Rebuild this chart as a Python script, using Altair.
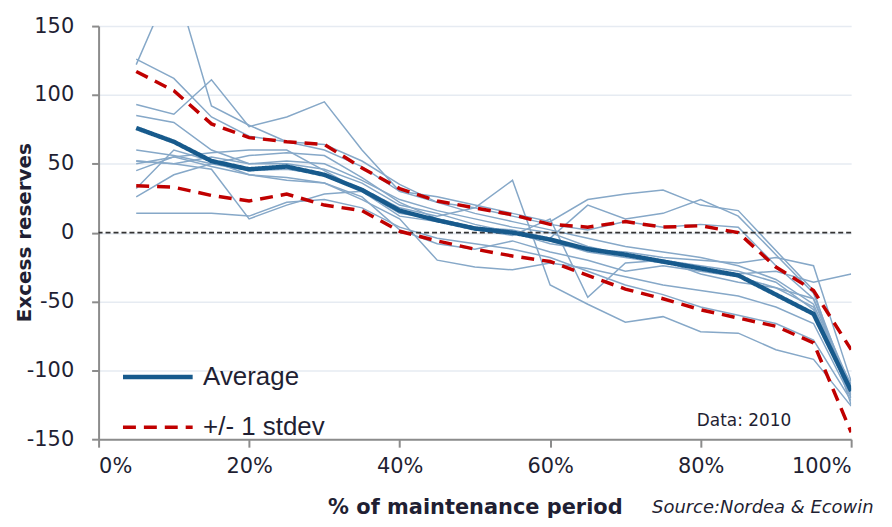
import altair as alt
import pandas as pd

# ---- data ----
x_pct = [0.05, 0.10, 0.15, 0.20, 0.25, 0.30, 0.35, 0.40, 0.45, 0.50,
         0.55, 0.60, 0.65, 0.70, 0.75, 0.80, 0.85, 0.90, 0.95, 1.00]

avg   = [76, 66, 52, 46, 48, 42, 31, 16, 9, 3, 0, -5, -12, -16, -21, -26, -31, -45, -59, -115]
upper = [117, 103, 79, 69, 66, 64, 47, 32, 23, 18, 13, 6, 4, 8, 4, 5, 0, -25, -42, -85]
lower = [34, 33, 27, 23, 28, 20, 16, 1, -6, -12, -17, -21, -31, -41, -48, -56, -62, -68, -80, -145]

p01 = [122, 185, 92, 78, 66, 60, 48, 30, 22, 14, 8, 2, -4, -10, -14, -18, -24, -34, -52, -114]
p02 = [126, 112, 84, 70, 66, 64, 52, 35, 22, 18, 12, 6, 2, 8, 4, 6, 4, -24, -48, -118]
p03 = [93, 86, 111, 77, 84, 95, 60, 30, 26, 20, 14, 8, 24, 28, 31, 20, 16, -13, -42, -125]
p04 = [14, 14, 14, 12, 22, 24, 18, 4, -4, -8, -12, -18, -28, -38, -45, -54, -60, -66, -78, -122]
p05 = [26, 42, 50, 56, 58, 56, 40, 22, 10, 4, 0, -6, -14, -18, -22, -26, -30, -28, -36, -30]
p06 = [60, 56, 50, 45, 46, 42, 32, 18, 12, 18, 38, -38, -52, -65, -61, -72, -73, -85, -92, -126]
p07 = [45, 55, 48, 42, 40, 36, 24, 10, -20, -25, -27, -22, -26, -32, -38, -42, -46, -54, -66, -120]
p08 = [52, 50, 46, 10, 20, 28, 30, 14, 10, 4, 2, -4, 20, 10, 14, 24, 12, -16, -44, -116]
p09 = [50, 55, 58, 60, 60, 45, 30, 12, 8, 2, -2, 10, -47, -22, -20, -30, -36, -40, -48, -112]
p10 = [85, 80, 60, 50, 50, 46, 36, 20, 14, 6, 0, -8, -12, -14, -18, -20, -22, -18, -24, -108]
p11 = [52, 50, 55, 50, 52, 50, 38, 24, 16, 10, 4, 0, -10, -16, -20, -24, -28, -36, -56, -110]
p12 = [32, 60, 52, 42, 38, 36, 26, 2, -8, -12, -6, -14, -20, -28, -24, -28, -32, -40, -54, -120]

periods = {"P01": p01, "P02": p02, "P03": p03, "P04": p04, "P05": p05, "P06": p06,
           "P07": p07, "P08": p08, "P09": p09, "P10": p10, "P11": p11, "P12": p12}

x_ticks = [0, 0.2, 0.4, 0.6, 0.8, 1.0]
y_ticks = [-150, -100, -50, 0, 50, 100, 150]

# ---- tables ----
thin_rows = []
for name, vals in periods.items():
    for x, v in zip(x_pct, vals):
        thin_rows.append({"x": x, "value": v, "period": name})
thin_df = pd.DataFrame(thin_rows)

stat_rows = []
for x, a, u, l in zip(x_pct, avg, upper, lower):
    stat_rows.append({"x": x, "value": a, "series": "Average", "band": "avg"})
    stat_rows.append({"x": x, "value": u, "series": "+/- 1 stdev", "band": "up"})
    stat_rows.append({"x": x, "value": l, "series": "+/- 1 stdev", "band": "low"})
stat_df = pd.DataFrame(stat_rows)

FONT = "DejaVu Sans"
TXT = "#1f1f33"

x_enc = alt.X("x:Q", scale=alt.Scale(domain=[0, 1], nice=False),
              axis=alt.Axis(values=x_ticks, format=".0%", grid=False,
                            domainColor="#8c8c8c", domainWidth=2,
                            tickColor="#8c8c8c", tickWidth=2, tickSize=8,
                            labelFont=FONT, labelFontSize=21, labelColor=TXT,
                            labelPadding=8, titleFont=FONT, titleFontSize=21,
                            titleFontWeight="bold", titleColor=TXT, titlePadding=21),
              title="% of maintenance period")
y_enc = alt.Y("value:Q", scale=alt.Scale(domain=[-150, 150], nice=False),
              axis=alt.Axis(values=y_ticks, grid=True, gridColor="#e6ebf2", gridWidth=1.5,
                            labelExpr="toString(datum.value)",
                            domainColor="#8c8c8c", domainWidth=2,
                            tickColor="#8c8c8c", tickWidth=2, tickSize=7,
                            labelFont=FONT, labelFontSize=21, labelColor=TXT,
                            labelPadding=18, titleFont=FONT, titleFontSize=20,
                            titleFontWeight="bold", titleColor=TXT,
                            titleX=-74, titleY=207, titleAngle=270,
                            titleAlign="center", titleBaseline="middle"),
              title="Excess reserves")

thin = alt.Chart(thin_df).mark_line(color="#86a8c8", strokeWidth=1.5, clip=True).encode(
    x=x_enc, y=y_enc, detail="period:N", order="x:Q")

zero = alt.Chart(pd.DataFrame({"z": [0]})).mark_rule(
    color="#333333", strokeDash=[5, 3], strokeWidth=1.6).encode(y=alt.Y("z:Q"))

series_dom = ["Average", "+/- 1 stdev"]
leg = alt.Legend(orient="none", legendX=22, legendY=315, title=None,
                 symbolType="stroke", symbolSize=4900,
                 labelFont="Liberation Sans", labelFontSize=26, labelColor=TXT,
                 labelOffset=8, rowPadding=-12)

stats = alt.Chart(stat_df).mark_line(clip=True).encode(
    x=x_enc, y=y_enc, detail="band:N", order="x:Q",
    color=alt.Color("series:N", scale=alt.Scale(domain=series_dom, range=["#175a8c", "#c00000"]),
                    legend=leg, sort=series_dom),
    strokeDash=alt.StrokeDash("series:N", scale=alt.Scale(domain=series_dom, range=[[1, 0], [13, 8]]),
                              legend=leg, sort=series_dom),
    strokeWidth=alt.StrokeWidth("series:N", scale=alt.Scale(domain=series_dom, range=[4.5, 3.5]),
                                legend=leg, sort=series_dom),
)

data_txt = alt.Chart(pd.DataFrame({"t": ["Data: 2010"]})).mark_text(
    align="left", baseline="middle", font=FONT, fontSize=17, color=TXT).encode(
    text="t:N", x=alt.value(601), y=alt.value(397))

src_txt = alt.Chart(pd.DataFrame({"t": ["Source:Nordea & Ecowin"]})).mark_text(
    align="left", baseline="middle", font=FONT, fontSize=18, fontStyle="italic", color=TXT).encode(
    text="t:N", x=alt.value(556), y=alt.value(484))

chart = alt.layer(thin, zero, stats, data_txt, src_txt).properties(
    width=756, height=415,
    autosize=alt.AutoSizeParams(type="none"),
    padding={"left": 91, "top": 17, "right": 33, "bottom": 78},
).configure_view(stroke=None)

chart.save("out.html", embed_options={"renderer": "svg", "actions": False})
